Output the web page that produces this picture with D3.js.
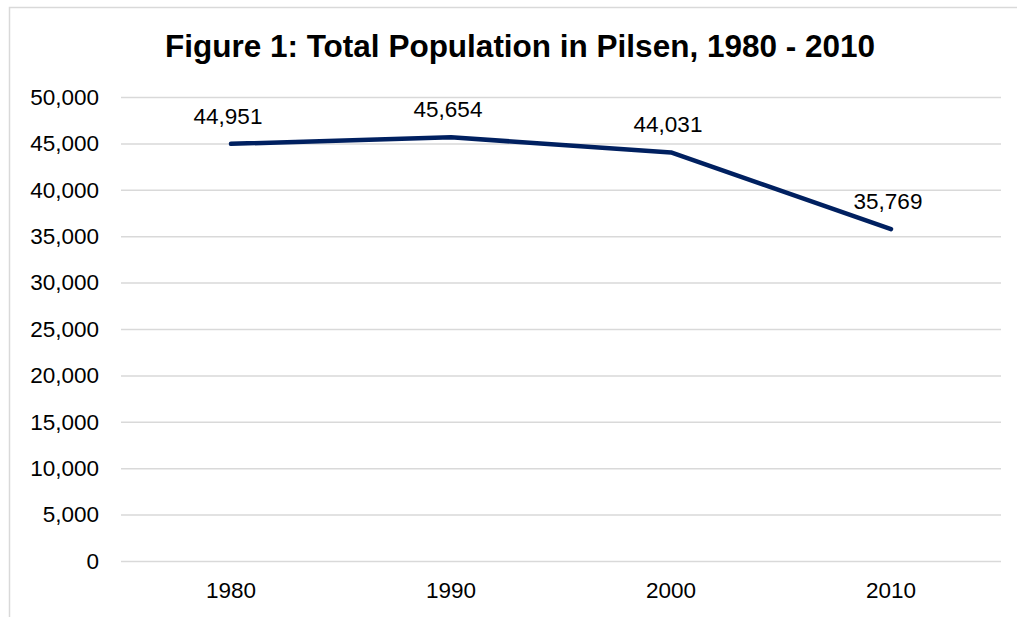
<!DOCTYPE html>
<html>
<head>
<meta charset="utf-8">
<script src="https://cdn.jsdelivr.net/npm/d3@7"></script>
<style>
  body { margin: 0; background: #fff; }
  svg { display: block; font-family: "Liberation Sans", Arial, Helvetica, sans-serif; }
</style>
</head>
<body>
<div id="chart"></div>
<script>
// data
let years = ["1980", "1990", "2000", "2010"];
let population = [44951, 45654, 44031, 35769];
let yTicks = [0, 5000, 10000, 15000, 20000, 25000, 30000, 35000, 40000, 45000, 50000];

let svgWidth = 1017;
let svgHeight = 617;
let margin = { top: 97, right: 15, bottom: 56, left: 121 };
let width = 1001 - margin.left;
let height = 561 - margin.top;
let fontSize = 22.5;

let svg = d3.select('#chart')
            .append('svg')
                .attr('width', svgWidth)
                .attr('height', svgHeight);

// outer frame (only top and left edges show in the picture)
svg.append('rect')
    .attr('x', 9.5).attr('y', 7.5)
    .attr('width', 1040).attr('height', 700)
    .attr('fill', 'none')
    .attr('stroke', '#d9d9d9')
    .attr('stroke-width', 1.5);

svg.append('text')
    .attr('x', 520).attr('y', 57)
    .attr('text-anchor', 'middle')
    .attr('font-size', 31.5)
    .attr('font-weight', 'bold')
    .attr('fill', '#000')
    .text('Figure 1: Total Population in Pilsen, 1980 - 2010');

let g = svg.append('g')
            .attr('transform', `translate(${margin.left},${margin.top})`);

let x = d3.scaleBand()
            .domain(years)
            .range([0, width]);

let y = d3.scaleLinear()
            .domain([0, 50000])
            .range([height, 0]);

// gridlines + y labels
let yAxis = d3.axisLeft(y)
            .tickValues(yTicks)
            .tickSize(-width)
            .tickPadding(22)
            .tickFormat(d3.format(','));

g.append('g')
    .call(yAxis)
    .call(a => a.select('.domain').remove())
    .call(a => a.selectAll('line').attr('stroke', '#d9d9d9').attr('stroke-width', 1.5))
    .call(a => a.selectAll('text').attr('font-size', fontSize).attr('fill', '#000')
        .attr('font-family', '"Liberation Sans", Arial, sans-serif'));

let xAxis = d3.axisBottom(x).tickSize(0).tickPadding(21);

g.append('g')
    .attr('transform', `translate(0,${height})`)
    .call(xAxis)
    .call(a => a.select('.domain').remove())
    .call(a => a.selectAll('text').attr('font-size', fontSize).attr('fill', '#000')
        .attr('font-family', '"Liberation Sans", Arial, sans-serif'));

let pts = years.map((yr, i) => ({ year: yr, value: population[i] }));

let line = d3.line()
            .x(d => x(d.year) + x.bandwidth() / 2)
            .y(d => y(d.value));

g.append('path')
    .datum(pts)
    .attr('d', line)
    .attr('fill', 'none')
    .attr('stroke', '#002060')
    .attr('stroke-width', 4.5)
    .attr('stroke-linecap', 'round')
    .attr('stroke-linejoin', 'round');

g.selectAll('.lbl')
    .data(pts)
    .enter()
        .append('text')
        .attr('class', 'lbl')
        .attr('x', d => x(d.year) + x.bandwidth() / 2 - 3)
        .attr('y', d => y(d.value) - 20)
        .attr('text-anchor', 'middle')
        .attr('font-size', fontSize)
        .attr('fill', '#000')
        .text(d => d3.format(',')(d.value));
</script>
</body>
</html>
